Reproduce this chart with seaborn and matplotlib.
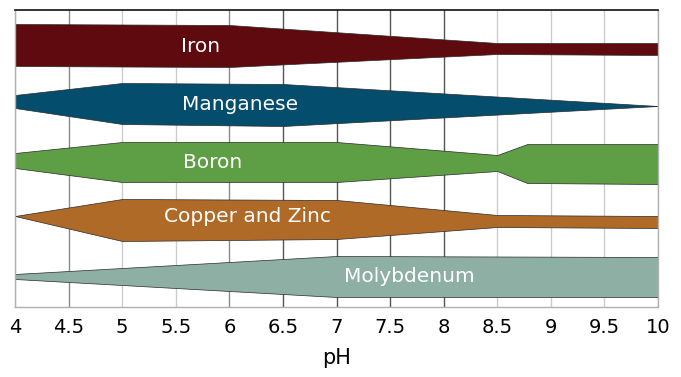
import matplotlib
matplotlib.use("Agg")
import matplotlib.pyplot as plt
import numpy as np
import pandas as pd
import seaborn as sns

### Dados (bordas das faixas; unidade = px acima da base do gráfico)
nutrientes = ["Iron", "Manganese", "Boron", "Copper and Zinc", "Molybdenum"]
cores = ["#5e0a0e", "#054d6d", "#5e9e44", "#b06a28", "#8eafa3"]

ph_ferro = [4, 6, 8.5, 10]
topo_ferro = [283, 282, 264, 264]
base_ferro = [241, 240, 253, 252]

ph_manganes = [4, 5, 6.5, 10]
topo_manganes = [212, 224, 223, 201]
base_manganes = [199, 183, 181, 201]

ph_boro = [4, 5, 7, 8.5, 8.78, 10]
topo_boro = [154, 165, 165, 152, 163, 163]
base_boro = [139, 125, 125, 136, 124, 123]

ph_cobre = [4, 5, 7, 8.5, 10]
topo_cobre = [91, 108, 107, 92, 91]
base_cobre = [91, 66, 68, 80, 79]

ph_molibdenio = [4, 7, 10]
topo_molibdenio = [33, 51, 50]
base_molibdenio = [28, 10, 10]

faixas = [
    (ph_ferro, topo_ferro, base_ferro),
    (ph_manganes, topo_manganes, base_manganes),
    (ph_boro, topo_boro, base_boro),
    (ph_cobre, topo_cobre, base_cobre),
    (ph_molibdenio, topo_molibdenio, base_molibdenio),
]

# posição dos rótulos (pH, altura)
rotulo_x = [5.73, 6.1, 5.84, 6.17, 7.68]
rotulo_y = [261, 203, 144, 91, 30]

ticks = [4, 4.5, 5, 5.5, 6, 6.5, 7, 7.5, 8, 8.5, 9, 9.5, 10]
grade_escura = [6.5, 7, 7.5, 8]
grade_media = [4.5, 6]

### Figura
sns.set_style("white")
plt.rcParams["font.family"] = ["DejaVu Sans"]

fig = plt.figure(figsize=(6.81, 3.77), dpi=100)
ax = fig.add_axes([15/681, 70/377, 643/681, 297/377])

for t in ticks:
    if t in grade_escura:
        cor = "#555555"
    elif t in grade_media:
        cor = "#8a8a8a"
    else:
        cor = "#cccccc"
    ax.axvline(t, color=cor, linewidth=1, zorder=0)

for (ph, topo, base), cor in zip(faixas, cores):
    df = pd.DataFrame({"pH": ph, "topo": topo, "base": base})
    ax.fill_between(df["pH"], df["base"], df["topo"], color=cor, zorder=2,
                    edgecolor="#2a2a2a", linewidth=0.5)

for nome, x, y in zip(nutrientes, rotulo_x, rotulo_y):
    ax.text(x, y, nome, color="white", fontsize=14.5, ha="center", va="center", zorder=3)

ax.set_xlim(4, 10)
ax.set_ylim(0, 297)
ax.set_xticks(ticks)
ax.set_xticklabels([f"{t:g}" for t in ticks], fontsize=14, color="black")
ax.set_yticks([])
ax.tick_params(axis="x", length=0, pad=8)
ax.set_xlabel("pH", fontsize=15, labelpad=8, color="black")

ax.spines["top"].set_color("#111111")
ax.spines["top"].set_linewidth(1.2)
for lado in ["left", "bottom", "right"]:
    ax.spines[lado].set_color("#b0b0b0")
    ax.spines[lado].set_linewidth(1)

fig.savefig("out.png", dpi=100)
